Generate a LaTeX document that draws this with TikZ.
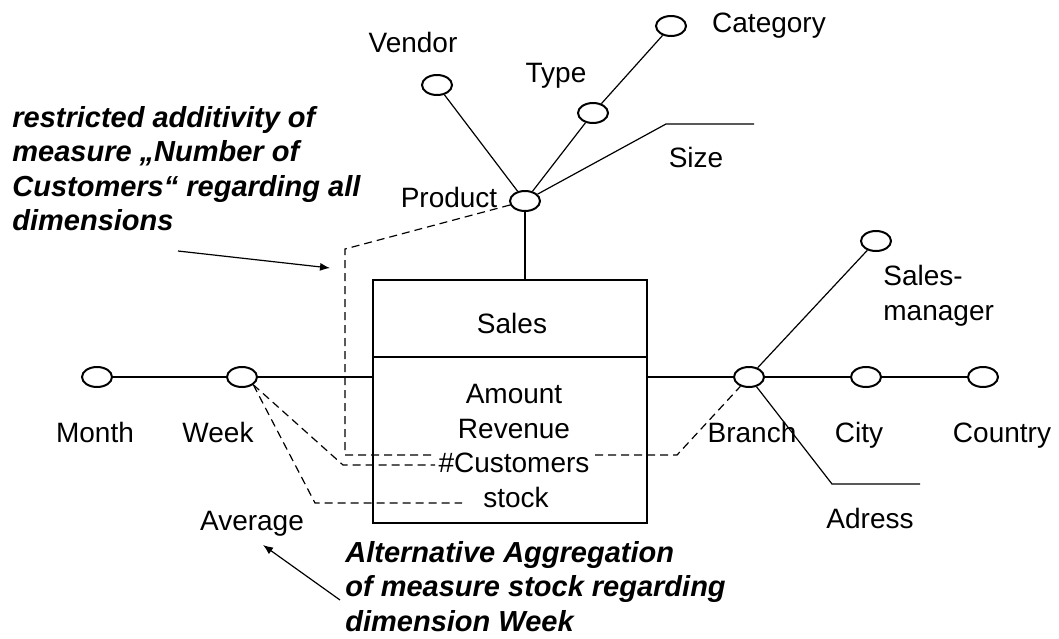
\documentclass[tikz,border=0pt]{standalone}
\usepackage{fontspec}
\setmainfont{Liberation Sans}
\usetikzlibrary{shapes.geometric,arrows.meta}

\begin{document}
\begin{tikzpicture}[x=0.5pt,y=-0.5pt]
    \tikzstyle{lvl} = [ellipse,draw,line width=1pt,minimum width=15pt,minimum height=10pt,inner sep=0pt]
    \tikzstyle{lbl} = [inner sep=0pt,anchor=base,font=\fontsize{14}{17.5}\selectfont]
    \tikzstyle{note} = [inner sep=0pt,align=left,anchor=north west,font=\fontsize{14.5}{17.25}\selectfont\bfseries\itshape]
    \tikzstyle{link} = [line width=0.6pt]
    \tikzstyle{dashlink} = [line width=0.6pt,dash pattern=on 4pt off 2.5pt]
    \tikzstyle{pointer} = [line width=0.6pt,-{Latex[length=5pt,width=4pt]}]
    \useasboundingbox (0,0) rectangle (1059,638);

    \node [draw,link,minimum width=137pt,minimum height=121.5pt,inner sep=0pt] (fact) at (510,401.5) {};
    \coordinate (div) at (0,357);
    \draw [link] (fact.west |- div) -- (fact.east |- div);
    \node [lbl] (sales) at (512,333) {Sales};
    \node [lbl] (amount) at (514,403) {Amount};
    \node [lbl] (revenue) at (514,438) {Revenue};
    \node [lbl] (cust) at (514,472) {\#Customers};
    \node [lbl] (stock) at (516,507) {stock};

    \node [lvl] (month) at (97,377) {};
    \node [lvl] (week) at (242,377) {};
    \node [lvl] (prod) at (525,201) {};
    \node [lvl] (vendor) at (437,85) {};
    \node [lvl] (type) at (593,113) {};
    \node [lvl] (categ) at (671,26) {};
    \node [lvl] (branch) at (749,377) {};
    \node [lvl] (city) at (866,377) {};
    \node [lvl] (country) at (983,377) {};
    \node [lvl] (mgr) at (876,241) {};

    \node [lbl] (monthlbl) at (95,442) {Month};
    \node [lbl] (weeklbl) at (218,442) {Week};
    \node [lbl] (avglbl) at (252,530) {Average};
    \node [lbl] (prodlbl) at (449,207) {Product};
    \node [lbl] (vendorlbl) at (413,52) {Vendor};
    \node [lbl] (typelbl) at (556,82) {Type};
    \node [lbl] (categlbl) at (769,32) {Category};
    \node [lbl] (sizelbl) at (696,167) {Size};
    \node [lbl] (branchlbl) at (752,442) {Branch};
    \node [lbl] (citylbl) at (859,442) {City};
    \node [lbl] (countrylbl) at (1002,442) {Country};
    \node [lbl] (adrlbl) at (870,528) {Adress};
    \node [lbl,anchor=base west] (mgrlbl1) at (883,285) {Sales-};
    \node [lbl,anchor=base west] (mgrlbl2) at (883,320) {manager};

    \coordinate (sizeknee) at (666,124);
    \coordinate (sizeend) at (754,124);
    \coordinate (adrknee) at (832,484);
    \coordinate (adrend) at (920,484);
    \draw [link] (month) -- (week) -- (fact.west |- week);
    \draw [link] (fact.east |- branch) -- (branch) -- (city) -- (country);
    \draw [link] (prod) -- (prod |- fact.north);
    \draw [link] (prod) -- (vendor);
    \draw [link] (prod) -- (type) -- (categ);
    \draw [link] (prod) -- (sizeknee) -- (sizeend);
    \draw [link] (branch) -- (mgr);
    \draw [link] (branch) -- (adrknee) -- (adrend);

    \coordinate (c1) at (345,249);
    \coordinate (c2) at (345,455);
    \coordinate (c3) at (435,455);
    \coordinate (c4) at (595,455);
    \coordinate (c5) at (677,455);
    \coordinate (w1) at (343,465);
    \coordinate (w2) at (435,465);
    \coordinate (a1) at (315,503);
    \coordinate (a2) at (462,503);
    \draw [dashlink] (prod) -- (c1) -- (c2) -- (c3);
    \draw [dashlink] (c4) -- (c5) -- (branch);
    \draw [dashlink] (week.south east) -- (w1) -- (w2);
    \draw [dashlink] (week.south east) -- (a1) -- (a2);

    \node [note] (addnote) at (12,106) {restricted additivity of\\measure „Number of\\Customers“ regarding all\\dimensions};
    \node [note] (aggnote) at (345,541) {Alternative Aggregation\\of measure stock regarding\\dimension Week};
    \coordinate (addtail) at (178,251);
    \coordinate (addtip) at (330,268);
    \coordinate (aggtail) at (340,600);
    \coordinate (aggtip) at (263,545);
    \draw [pointer] (addtail) -- (addtip);
    \draw [pointer] (aggtail) -- (aggtip);
\end{tikzpicture}
\end{document}
